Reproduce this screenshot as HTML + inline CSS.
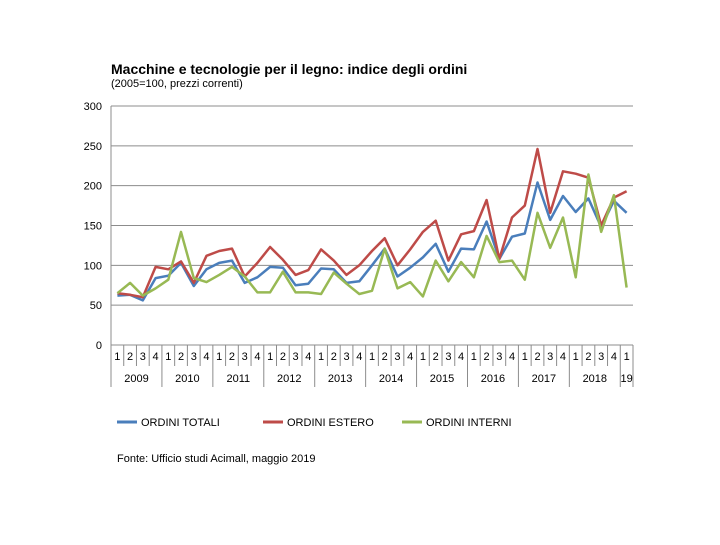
<!DOCTYPE html>
<html><head><meta charset="utf-8"><style>
body{margin:0;background:#fff;width:720px;height:540px;overflow:hidden;font-family:"Liberation Sans",Arial,sans-serif}
</style></head><body>
<svg id="s" width="720" height="540" xmlns="http://www.w3.org/2000/svg" font-family="Liberation Sans, Arial, sans-serif">
<text x="111" y="74" font-size="14" font-weight="bold" fill="#000">Macchine e tecnologie per il legno: indice degli ordini</text>
<text x="111" y="87" font-size="11" fill="#000">(2005=100, prezzi correnti)</text>
<text x="117" y="462" font-size="11" fill="#000">Fonte: Ufficio studi Acimall, maggio 2019</text>
<g id="g"></g>
<line x1="117" y1="422" x2="137" y2="422" stroke="#4a7ebb" stroke-width="3"/>
<text x="141" y="426" font-size="11">ORDINI TOTALI</text>
<line x1="263" y1="422" x2="283" y2="422" stroke="#be4b48" stroke-width="3"/>
<text x="287" y="426" font-size="11">ORDINI ESTERO</text>
<line x1="402" y1="422" x2="422" y2="422" stroke="#98b954" stroke-width="3"/>
<text x="426" y="426" font-size="11">ORDINI INTERNI</text>
</svg>
<script>
var g=document.getElementById('g'),h='';
var L=111,R=633,Y0=345,k=239/300,n=41,w=(R-L)/n;
function Y(v){return Y0-v*k}
for(var v=0;v<=300;v+=50){h+='<line x1="'+L+'" x2="'+R+'" y1="'+Y(v)+'" y2="'+Y(v)+'" stroke="#8c8c8c" stroke-width="1"/>';h+='<text x="102" y="'+(Y(v)+4)+'" font-size="11" text-anchor="end">'+v+'</text>';}
h+='<line x1="'+L+'" x2="'+L+'" y1="106" y2="'+Y0+'" stroke="#8c8c8c"/>';
for(var i=0;i<=n;i++){var x=L+w*i;var long=(i%4==0)||i==n;h+='<line x1="'+x+'" x2="'+x+'" y1="'+Y0+'" y2="'+(long?387:366)+'" stroke="#8c8c8c"/>';
if(i<n)h+='<text x="'+(x+w/2)+'" y="360" font-size="11" text-anchor="middle">'+(i%4+1)+'</text>';}
var yrs=['2009','2010','2011','2012','2013','2014','2015','2016','2017','2018'];
for(var j=0;j<10;j++)h+='<text x="'+(L+w*(4*j+2))+'" y="382" font-size="11" text-anchor="middle">'+yrs[j]+'</text>';
h+='<text x="'+(L+w*40.5)+'" y="382" font-size="11" text-anchor="middle">19</text>';
var B=[62,63,56,84,87,103,74,95,103,106,78,85,98,97,75,77,96,95,78,80,100,121,86,97,110,127,92,121,120,155,108,136,140,204,157,187,167,184,148,181,166];
var Rd=[65,63,60,98,95,105,78,112,118,121,86,103,123,107,88,94,120,106,88,100,118,134,100,120,142,156,106,139,143,182,108,160,175,246,166,218,215,210,150,185,193];
var G=[65,78,62,71,82,142,84,79,88,98,86,66,66,92,66,66,64,91,77,64,68,121,71,79,61,106,80,104,85,137,104,106,82,166,122,160,85,214,142,188,72];
function P(a,c){var p=a.map(function(v,i){return (L+w*(i+0.5)).toFixed(1)+','+Y(v).toFixed(1)}).join(' ');return '<polyline points="'+p+'" fill="none" stroke="'+c+'" stroke-width="2.5" stroke-linejoin="round"/>'}
h+=P(B,'#4a7ebb')+P(Rd,'#be4b48')+P(G,'#98b954');
g.innerHTML=h;
</script>
</body></html>
